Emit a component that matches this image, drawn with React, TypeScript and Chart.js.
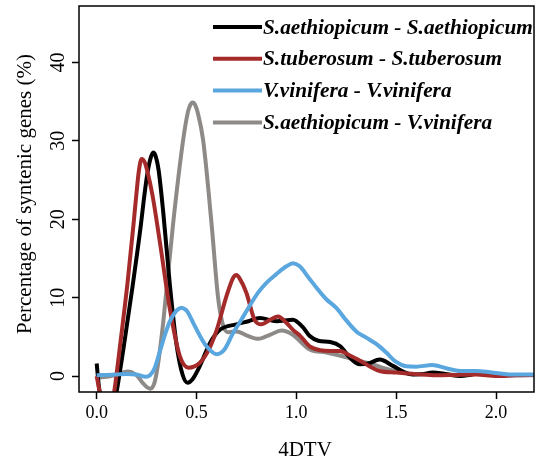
import React, { useEffect, useRef } from "react";
import { Chart, registerables } from "chart.js";

Chart.register(...registerables);

const SERIF = '"Liberation Serif", "Times New Roman", serif';

const xTickValues = [0, 0.5, 1, 1.5, 2];
const yTickValues = [0, 10, 20, 30, 40];

const seriesLabels = [
  "S.aethiopicum - S.aethiopicum",
  "S.tuberosum - S.tuberosum",
  "V.vinifera - V.vinifera",
  "S.aethiopicum - V.vinifera",
];

const blackX = [0, 0.012, 0.05, 0.085, 0.1, 0.14, 0.18, 0.22, 0.24, 0.255, 0.27, 0.283, 0.296, 0.31, 0.333, 0.367, 0.4, 0.43, 0.455, 0.48, 0.517, 0.567, 0.617, 0.7, 0.76, 0.817, 0.9, 0.983, 1.03, 1.067, 1.11, 1.17, 1.22, 1.27, 1.317, 1.36, 1.417, 1.483, 1.54, 1.583, 1.63, 1.683, 1.75, 1.82, 1.87, 1.917, 1.97, 2.05, 2.2];
const blackY = [1.6, -1.5, -6, -4, -2, 4.5, 11.5, 19, 23.3, 26, 27.8, 28.5, 28.0, 26.3, 21, 11.5, 4, 0.2, -0.85, -0.4, 1.3, 4.2, 5.9, 6.6, 7.0, 7.4, 7.0, 7.2, 6.3, 5.1, 4.5, 4.35, 3.8, 2.3, 1.5, 1.6, 2.1, 1.3, 0.5, 0.2, 0.25, 0.45, 0.25, 0.0, 0.15, 0.4, 0.3, 0.15, 0.15];

const redX = [0, 0.015, 0.045, 0.075, 0.088, 0.12, 0.155, 0.185, 0.2, 0.212, 0.225, 0.24, 0.255, 0.28, 0.317, 0.367, 0.417, 0.46, 0.517, 0.56, 0.6, 0.65, 0.685, 0.7, 0.715, 0.75, 0.79, 0.825, 0.87, 0.908, 0.95, 0.983, 1.02, 1.067, 1.12, 1.17, 1.217, 1.27, 1.317, 1.37, 1.417, 1.5, 1.6, 1.7, 1.8, 1.9, 2.0, 2.1, 2.2];
const redY = [0, -2, -5, -4, -2, 4.5, 12, 19.5, 23.5, 26.3, 27.7, 27.3, 26.0, 23, 17, 8.5, 2.5, 1.07, 1.7, 3.3, 5.8, 10.2, 12.6, 12.9, 12.5, 10.6, 7.2, 6.6, 7.2, 7.6, 6.8, 5.9, 5.1, 3.8, 3.3, 3.2, 3.2, 2.6, 2.0, 1.2, 0.65, 0.45, 0.25, 0.1, 0.15, 0.2, 0.0, 0.1, 0.15];

const blueX = [0, 0.05, 0.1, 0.15, 0.2, 0.245, 0.267, 0.29, 0.317, 0.345, 0.367, 0.395, 0.41, 0.425, 0.44, 0.455, 0.483, 0.52, 0.55, 0.6, 0.64, 0.683, 0.72, 0.767, 0.81, 0.85, 0.9, 0.95, 0.983, 1.017, 1.06, 1.1, 1.15, 1.2, 1.25, 1.3, 1.35, 1.4, 1.45, 1.5, 1.55, 1.6, 1.68, 1.75, 1.82, 1.9, 1.97, 2.08, 2.2];
const blueY = [0.1, 0.15, 0.2, 0.25, 0.2, -0.1, 0.1, 1.0, 3.2, 5.5, 7.0, 8.2, 8.55, 8.7, 8.55, 8.2, 6.8, 5.0, 3.8, 2.8, 3.4, 5.5, 7.0, 9.0, 10.7, 11.9, 13.0, 14.0, 14.4, 14.0, 12.6, 11.3, 9.8, 8.7, 7.1, 5.7, 4.9, 4.1, 3.0, 1.8, 1.25, 1.2, 1.4, 1.0, 0.65, 0.65, 0.5, 0.2, 0.2];

const grayX = [0, 0.05, 0.1, 0.155, 0.2, 0.235, 0.268, 0.29, 0.31, 0.333, 0.383, 0.433, 0.457, 0.469, 0.481, 0.493, 0.505, 0.533, 0.575, 0.608, 0.635, 0.66, 0.7, 0.75, 0.81, 0.87, 0.925, 0.98, 1.067, 1.15, 1.25, 1.32, 1.383, 1.44, 1.5, 1.6, 1.7, 1.8, 1.9, 2.0, 2.2];
const grayY = [-0.2, -0.1, 0.2, 0.6, 0.1, -1.0, -1.6, -0.8, 2.0, 6.8, 19.5, 30.1, 33.7, 34.6, 34.9, 34.6, 33.7, 30.1, 19.5, 10, 6.3, 5.6, 5.7, 5.2, 4.75, 5.3, 5.8, 5.3, 3.4, 3.0, 2.4, 1.9, 1.5, 1.0, 0.6, 0.2, 0.3, 0.15, 0.3, 0.15, 0.1];

const toPoints = (xs: number[], ys: number[]) => xs.map((x, i) => ({ x, y: ys[i] }));

const overlayPlugin = {
  id: "overlay",
  afterDraw(chart: any) {
    const { ctx, chartArea } = chart;
    const { left, top, right, bottom } = chartArea;
    ctx.save();
    // plot box
    ctx.strokeStyle = "#000";
    ctx.lineWidth = 1.5;
    ctx.strokeRect(left, top, right - left, bottom - top);

    // y tick labels (rotated, R style)
    const yScale = chart.scales.y;
    ctx.fillStyle = "#000";
    ctx.font = `20px ${SERIF}`;
    ctx.textAlign = "center";
    ctx.textBaseline = "middle";
    yScale.ticks.forEach((t: any) => {
      const py = yScale.getPixelForValue(t.value);
      ctx.save();
      ctx.translate(59, py);
      ctx.rotate(-Math.PI / 2);
      ctx.fillText(String(t.value), 0, 0);
      ctx.restore();
    });

    // axis titles
    ctx.font = `21px ${SERIF}`;
    ctx.save();
    ctx.translate(25, 194);
    ctx.rotate(-Math.PI / 2);
    ctx.fillText("Percentage of syntenic genes (%)", 0, 0);
    ctx.restore();
    ctx.fillText("4DTV", 305, 450);

    // legend
    ctx.font = `italic bold 21.3px ${SERIF}`;
    ctx.textAlign = "left";
    chart.data.datasets.forEach((ds: any, i: number) => {
      const y = 27 + i * 31.8;
      ctx.strokeStyle = ds.borderColor;
      ctx.lineWidth = 4;
      ctx.beginPath();
      ctx.moveTo(213, y);
      ctx.lineTo(262, y);
      ctx.stroke();
      ctx.fillStyle = "#000";
      ctx.fillText(ds.label, 263, y + 1);
    });
    ctx.restore();
  },
};

export default function App() {
  const ref = useRef<HTMLCanvasElement>(null);
  useEffect(() => {
    document.body.style.margin = "0";
    const canvas = ref.current!;
    const common = {
      pointRadius: 0,
      borderWidth: 4,
      cubicInterpolationMode: "monotone" as const,
      fill: false,
      clip: 0,
    };
    const chart = new Chart(canvas, {
      type: "line",
      data: {
        datasets: [
          { ...common, label: seriesLabels[0], data: toPoints(blackX, blackY), borderColor: "#000000", order: 2 },
          { ...common, label: seriesLabels[1], data: toPoints(redX, redY), borderColor: "#A52A2A", order: 1 },
          { ...common, label: seriesLabels[2], data: toPoints(blueX, blueY), borderColor: "#5AA6DE", order: 0 },
          { ...common, label: seriesLabels[3], data: toPoints(grayX, grayY), borderColor: "#8E8A87", order: 3 },
        ],
      },
      options: {
        responsive: false,
        animation: false,
        devicePixelRatio: 1,
        layout: { padding: { left: 0, top: 6, right: 3, bottom: 0 } },
        plugins: { legend: { display: false }, tooltip: { enabled: false } },
        scales: {
          x: {
            type: "linear",
            min: -0.0885,
            max: 2.19,
            afterBuildTicks: (s: any) => {
              s.ticks = xTickValues.map((v) => ({ value: v }));
            },
            afterFit: (s: any) => {
              s.height = 67;
            },
            ticks: {
              autoSkip: false,
              maxRotation: 0,
              color: "#000",
              padding: 3,
              font: { family: SERIF, size: 18 },
              callback: (v: any) => Number(v).toFixed(1),
            },
            grid: { display: true, drawOnChartArea: false, drawTicks: true, tickLength: 7, tickWidth: 1.5, tickColor: "#000" },
            border: { display: false },
          },
          y: {
            type: "linear",
            min: -2.03,
            max: 47.2,
            afterBuildTicks: (s: any) => {
              s.ticks = yTickValues.map((v) => ({ value: v }));
            },
            afterFit: (s: any) => {
              s.width = 79;
            },
            ticks: { display: false },
            grid: { display: true, drawOnChartArea: false, drawTicks: true, tickLength: 7, tickWidth: 1.5, tickColor: "#000" },
            border: { display: false },
          },
        },
      },
      plugins: [overlayPlugin],
    });
    return () => chart.destroy();
  }, []);
  return (
    <div style={{ width: 537, height: 459 }}>
      <canvas ref={ref} width={537} height={459} style={{ display: "block", width: 537, height: 459 }} />
    </div>
  );
}
